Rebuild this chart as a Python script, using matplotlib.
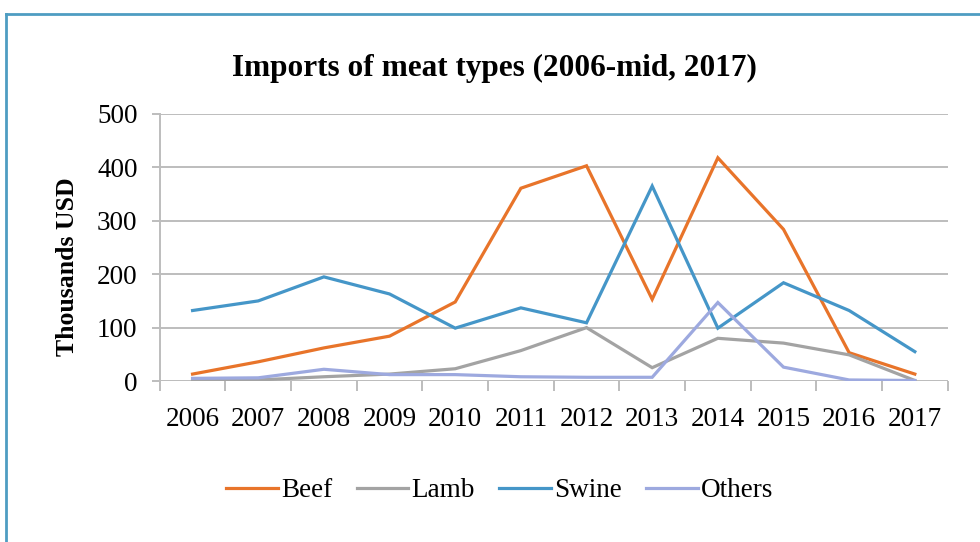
"""Line chart of meat import values by type, 2006 to mid-2017."""

import matplotlib
matplotlib.use('Agg')
import matplotlib.pyplot as plt
from matplotlib.lines import Line2D
from matplotlib.ticker import FixedLocator


years = list(range(2006, 2018))
beef = [13, 36, 62, 84, 148, 361, 403, 153, 418, 284, 53, 13]
lamb = [1, 2, 8, 13, 23, 57, 100, 25, 80, 71, 49, 1]
swine = [132, 150, 195, 163, 99, 137, 109, 365, 99, 184, 132, 55]
others = [5, 6, 22, 12, 12, 8, 7, 7, 147, 26, 2, 1]

SERIES = [
    ("Beef", beef, "#E8742A"),
    ("Lamb", lamb, "#A3A3A3"),
    ("Swine", swine, "#4596C8"),
    ("Others", others, "#9DA9DF"),
]
GRID_COLOR = "#BDBDBD"

plt.rcParams['font.family'] = ['Liberation Serif', 'DejaVu Serif']

fig = plt.figure(figsize=(9.8, 5.42), dpi=100)
fig.patch.set_facecolor('white')
ax = fig.add_axes([0.163, 0.297, 0.804, 0.4927])

for name, values, color in SERIES:
    ax.plot(years, values, color=color, linewidth=2.3, label=name,
            solid_joinstyle='miter')

# Axes and grid
ax.set_xlim(2005.5, 2017.5)
ax.set_ylim(0, 500)
ax.set_yticks(range(0, 501, 100))
ax.yaxis.grid(True, color=GRID_COLOR, linewidth=1.4)
ax.set_axisbelow(True)
for side in ('top', 'right', 'bottom'):
    ax.spines[side].set_visible(False)
ax.spines['left'].set_color(GRID_COLOR)
ax.spines['left'].set_linewidth(1.4)
ax.axhline(0, color=GRID_COLOR, linewidth=1.4, zorder=1)

ax.set_xticks(years)
ax.set_xticklabels([str(y) for y in years])
ax.xaxis.set_minor_locator(FixedLocator([y - 0.5 for y in years] + [2017.5]))
ax.tick_params(axis='x', which='major', length=0, pad=19, labelsize=19.5)
ax.tick_params(axis='x', which='minor', length=7, width=1.4, color=GRID_COLOR,
               direction='out')
ax.tick_params(axis='y', length=6, width=1.4, color=GRID_COLOR, pad=10,
               labelsize=19.5)

ax.set_ylabel('Thousands USD', fontsize=18.5, fontweight='bold', labelpad=13)
ax.yaxis.label.set_y(0.43)
fig.text(0.505, 0.874, 'Imports of meat types (2006-mid, 2017)',
         ha='center', va='center', fontsize=22.5, fontweight='bold')

fig.legend(loc='center', bbox_to_anchor=(0.51, 0.095), ncol=4, frameon=False,
           fontsize=19.5, handlelength=1.9, handletextpad=0.12,
           columnspacing=0.9)

# Frame lines along the top and left edge
fig.add_artist(Line2D([0.006, 1.0], [0.974, 0.974], transform=fig.transFigure,
                      color='#4E9DC2', linewidth=2))
fig.add_artist(Line2D([0.006, 0.006], [0.0, 0.974], transform=fig.transFigure,
                      color='#4E9DC2', linewidth=2))

fig.savefig('out.png', dpi=100, facecolor='white')
plt.close(fig)
